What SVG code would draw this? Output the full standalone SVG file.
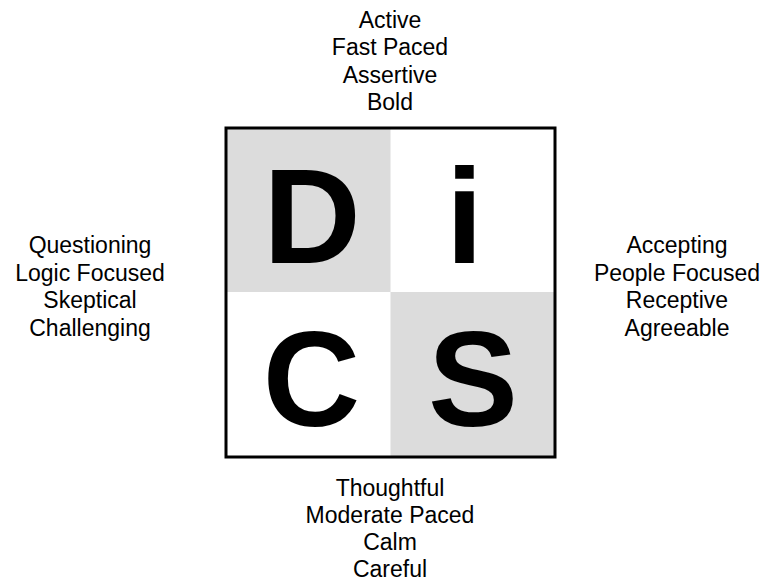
<svg xmlns="http://www.w3.org/2000/svg" width="767" height="581" viewBox="0 0 767 581">
<style>
.lbl{font-family:"Liberation Sans",Arial,sans-serif;font-size:23px;fill:#000;text-anchor:middle}
.big{font-family:"Liberation Sans",Arial,sans-serif;font-size:135px;font-weight:bold;fill:#000;text-anchor:middle}
.q{fill:#dcdcdc}
</style>
<rect width="767" height="581" fill="#fff"/>
<g id="grid">
<rect class="q" x="226" y="128" width="164.5" height="164"/>
<rect class="q" x="390.5" y="292" width="164.5" height="164"/>
<rect x="226" y="128" width="329" height="329" fill="none" stroke="#000" stroke-width="3"/>
</g>
<g id="D"><text class="big" x="312" y="263">D</text></g>
<g id="i"><text class="big" x="464.5" y="263">i</text></g>
<g id="C"><text class="big" x="311.5" y="426">C</text></g>
<g id="S"><text class="big" x="473" y="426">S</text></g>
<g id="top"><text class="lbl" x="390" y="27.5">Active</text><text class="lbl" x="390" y="55">Fast Paced</text><text class="lbl" x="390" y="82.5">Assertive</text><text class="lbl" x="390" y="110">Bold</text></g>
<g id="left"><text class="lbl" x="90" y="253">Questioning</text><text class="lbl" x="90" y="280.5">Logic Focused</text><text class="lbl" x="90" y="308">Skeptical</text><text class="lbl" x="90" y="335.5">Challenging</text></g>
<g id="right"><text class="lbl" x="677" y="253">Accepting</text><text class="lbl" x="677" y="280.5">People Focused</text><text class="lbl" x="677" y="308">Receptive</text><text class="lbl" x="677" y="335.5">Agreeable</text></g>
<g id="bottom"><text class="lbl" x="390" y="496">Thoughtful</text><text class="lbl" x="390" y="523">Moderate Paced</text><text class="lbl" x="390" y="550">Calm</text><text class="lbl" x="390" y="577">Careful</text></g>
</svg>
